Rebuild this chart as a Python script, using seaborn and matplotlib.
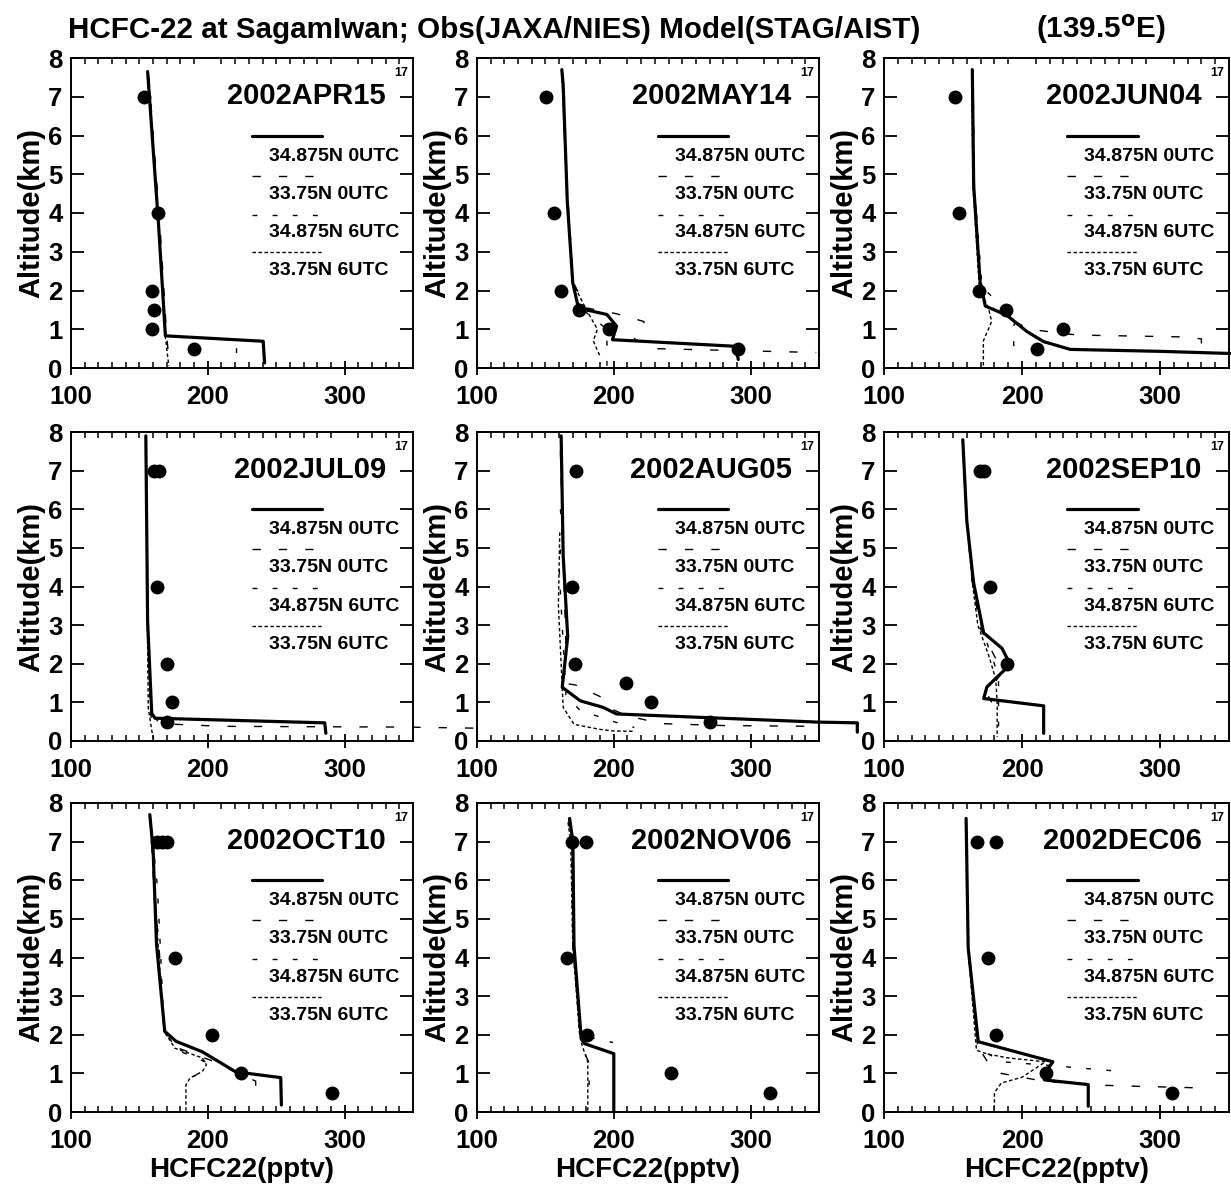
import matplotlib
matplotlib.use("Agg")
import matplotlib.pyplot as plt
from matplotlib.lines import Line2D
from matplotlib.ticker import MultipleLocator
import seaborn as sns

# ---------------- data ----------------
dates = ["2002APR15", "2002MAY14", "2002JUN04",
         "2002JUL09", "2002AUG05", "2002SEP10",
         "2002OCT10", "2002NOV06", "2002DEC06"]
series_labels = ["34.875N 0UTC", "33.75N 0UTC", "34.875N 6UTC", "33.75N 6UTC"]
x_ticks = [100, 200, 300]
y_ticks = [0, 1, 2, 3, 4, 5, 6, 7, 8]

# APR15
apr_obs_ppt = [153, 163.5, 159.5, 161, 159.5, 190]
apr_obs_km = [7, 4, 2, 1.5, 1, 0.5]
apr_s1_ppt = [156, 164, 169, 240.5, 241.5]
apr_s1_km = [7.65, 3.7, 0.83, 0.69, 0.13]
apr_s2_ppt = [157, 165, 170, 172]
apr_s2_km = [7.5, 3.7, 0.8, 0.1]
apr_s3_ppt = [156, 164, 169, 221, 221]
apr_s3_km = [7.6, 3.7, 0.83, 0.72, 0.13]
apr_s4_ppt = [156.5, 164, 169, 171.5]
apr_s4_km = [7.6, 3.7, 0.8, 0.05]

# MAY14
may_obs_ppt = [150.5, 156, 161.5, 174.5, 196.5, 290.5]
may_obs_km = [7, 4, 2, 1.5, 1, 0.5]
may_s1_ppt = [162, 163, 166, 170, 173.5, 180, 195, 202, 199, 289, 291]
may_s1_km = [7.7, 7.3, 4.3, 2.2, 1.65, 1.5, 1.38, 1.08, 0.73, 0.56, 0.22]
may_s2_ppt = [162.5, 166.5, 170.5, 180, 202, 222, 222, 215, 230, 348]
may_s2_km = [7.6, 4.3, 2.2, 1.55, 1.4, 1.2, 1.05, 0.75, 0.5, 0.4]
may_s3_ppt = [162, 166, 170, 174, 195, 195]
may_s3_km = [7.6, 4.3, 2.2, 1.6, 1.0, 0.05]
may_s4_ppt = [162, 166, 170, 180, 188, 185, 190]
may_s4_km = [7.6, 4.3, 2.2, 1.5, 1.0, 0.7, 0.3]

# JUN04
jun_obs_ppt = [151.5, 154, 168.5, 188.5, 230, 211]
jun_obs_km = [7, 4, 2, 1.5, 1, 0.5]
jun_s1_ppt = [164, 165, 169.7, 173.4, 189, 203.6, 215.7, 235, 300, 355]
jun_s1_km = [7.7, 4.7, 2.2, 1.6, 1.36, 0.94, 0.68, 0.48, 0.43, 0.37]
jun_s2_ppt = [164.5, 165.5, 170, 180, 205, 240, 320, 330, 330]
jun_s2_km = [7.6, 4.7, 2.2, 1.5, 1.0, 0.85, 0.8, 0.75, 0.35]
jun_s3_ppt = [164, 165.5, 171, 185, 195, 194, 194]
jun_s3_km = [7.6, 4.7, 2.1, 1.6, 1.25, 1.05, 0.35]
jun_s4_ppt = [163.5, 164.5, 169, 176, 178, 172, 172]
jun_s4_km = [7.6, 4.7, 2.1, 1.5, 1.2, 0.7, 0.0]

# JUL09
jul_obs_ppt = [161, 164, 163, 170, 174, 170]
jul_obs_km = [7, 7, 4, 2, 1, 0.5]
jul_s1_ppt = [154.7, 156, 159, 161.4, 285.5, 286.3]
jul_s1_km = [7.9, 3.1, 0.72, 0.59, 0.47, 0.2]
jul_s2_ppt = [155, 156, 159, 165, 210, 345, 400]
jul_s2_km = [7.5, 3.0, 0.7, 0.45, 0.38, 0.36, 0.33]
jul_s3_ppt = [155, 156, 158, 160]
jul_s3_km = [7.5, 3.0, 0.8, 0.2]
jul_s4_ppt = [155, 155.5, 156.5, 159.6, 161]
jul_s4_km = [7.4, 4.1, 0.85, 0.15, 0.0]

# AUG05
aug_obs_ppt = [172.5, 169.5, 171.5, 209, 227, 270.5]
aug_obs_km = [7, 4, 2, 1.5, 1, 0.5]
aug_s1_ppt = [161.5, 163, 166.3, 162.3, 175.5, 192.3, 201.9, 348.6, 378, 378]
aug_s1_km = [7.9, 4.8, 2.7, 1.39, 1.04, 0.87, 0.7, 0.49, 0.47, 0.23]
aug_s2_ppt = [161, 163, 165, 163, 172, 190, 200, 210, 235, 280, 348]
aug_s2_km = [7.5, 4.8, 2.5, 1.5, 1.45, 1.15, 0.8, 0.65, 0.45, 0.4, 0.38]
aug_s3_ppt = [161, 162, 160, 165, 175, 200, 215]
aug_s3_km = [6.0, 5.4, 4.5, 1.2, 0.8, 0.5, 0.35]
aug_s4_ppt = [160.5, 159.5, 163, 171, 190, 200, 215]
aug_s4_km = [5.4, 3.5, 0.87, 0.43, 0.3, 0.26, 0.25]

# SEP10
sep_obs_ppt = [169.5, 172.5, 176.5, 189]
sep_obs_km = [7, 7, 4, 2]
sep_s1_ppt = [157.1, 160, 164.9, 172.2, 185.5, 191.5, 181.8, 174.6, 172.2, 215.7, 215.7]
sep_s1_km = [7.8, 5.7, 4.1, 2.8, 2.4, 1.98, 1.65, 1.4, 1.1, 0.91, 0.2]
sep_s2_ppt = [157, 160, 164, 170, 180, 186, 180, 175, 178]
sep_s2_km = [7.7, 5.7, 4.1, 2.9, 2.2, 1.8, 1.5, 1.2, 1.0]
sep_s3_ppt = [157, 160, 164.5, 171, 180, 183, 183]
sep_s3_km = [7.7, 5.7, 4.1, 2.9, 2.0, 1.6, 0.2]
sep_s4_ppt = [157, 160, 164, 168, 176, 181, 182, 182]
sep_s4_km = [7.6, 5.7, 4.1, 3.0, 2.2, 1.6, 1.0, 0.1]

# OCT10
oct_obs_ppt = [162.5, 166.5, 170.5, 176, 203, 224, 291]
oct_obs_km = [7, 7, 7, 4, 2, 1, 0.5]
oct_s1_ppt = [157.6, 160, 162.5, 168.5, 176.8, 195.9, 220.4, 253.3, 253.8]
oct_s1_km = [7.7, 6.8, 4.35, 2.09, 1.83, 1.56, 1.04, 0.89, 0.18]
oct_s2_ppt = [158, 161, 164, 168, 175, 205, 222, 235, 235]
oct_s2_km = [7.6, 5.5, 4.5, 2.1, 1.7, 1.3, 1.0, 0.8, 0.3]
oct_s3_ppt = [158, 163, 165, 168, 178, 198, 196, 186, 184]
oct_s3_km = [7.6, 5.9, 4.5, 2.1, 1.6, 1.3, 1.05, 0.85, 0.7]
oct_s4_ppt = [158, 161, 163.5, 168, 176, 196, 199, 196, 187, 184, 184]
oct_s4_km = [7.6, 6.0, 4.4, 2.1, 1.65, 1.4, 1.22, 1.05, 0.88, 0.7, 0.0]

# NOV06
nov_obs_ppt = [169.5, 180, 165.5, 180.5, 241.5, 314.5]
nov_obs_km = [7, 7, 4, 2, 1, 0.5]
nov_s1_ppt = [167.7, 170.1, 170.9, 176.2, 178.6, 200, 200]
nov_s1_km = [7.6, 7.0, 4.3, 1.9, 1.77, 1.51, 0.0]
nov_s2_ppt = [167, 169.5, 170.5, 175.5, 178, 181.5, 182]
nov_s2_km = [7.6, 7.0, 4.3, 2.0, 1.6, 1.3, 0.7]
nov_s3_ppt = [167, 169, 170, 175, 180, 199.5]
nov_s3_km = [7.5, 7.0, 4.3, 2.1, 1.95, 1.8]
nov_s4_ppt = [166.5, 168.5, 170, 175, 177, 181, 181]
nov_s4_km = [7.5, 7.0, 4.3, 2.0, 1.7, 1.3, 0.0]

# DEC06
dec_obs_ppt = [167.5, 181.5, 175.5, 181, 217.5, 309]
dec_obs_km = [7, 7, 4, 2, 1, 0.5]
dec_s1_ppt = [159.5, 161, 168.3, 222.4, 216.3, 216.3, 248, 248]
dec_s1_km = [7.6, 4.25, 1.82, 1.3, 1.0, 0.83, 0.71, 0.15]
dec_s2_ppt = [159.5, 161, 168, 175, 185, 200, 215, 250, 290, 333]
dec_s2_km = [7.6, 4.2, 1.7, 1.3, 1.0, 0.9, 0.8, 0.7, 0.66, 0.62]
dec_s3_ppt = [159.5, 161, 168, 186, 222, 275]
dec_s3_km = [7.6, 4.2, 1.65, 1.3, 1.2, 1.04]
dec_s4_ppt = [159.5, 161, 167, 175, 190, 217, 200, 185, 180, 180]
dec_s4_km = [7.6, 4.2, 1.6, 1.5, 1.4, 1.3, 0.9, 0.75, 0.5, 0.1]

panels = [
    (apr_obs_ppt, apr_obs_km, [(apr_s1_ppt, apr_s1_km), (apr_s2_ppt, apr_s2_km), (apr_s3_ppt, apr_s3_km), (apr_s4_ppt, apr_s4_km)]),
    (may_obs_ppt, may_obs_km, [(may_s1_ppt, may_s1_km), (may_s2_ppt, may_s2_km), (may_s3_ppt, may_s3_km), (may_s4_ppt, may_s4_km)]),
    (jun_obs_ppt, jun_obs_km, [(jun_s1_ppt, jun_s1_km), (jun_s2_ppt, jun_s2_km), (jun_s3_ppt, jun_s3_km), (jun_s4_ppt, jun_s4_km)]),
    (jul_obs_ppt, jul_obs_km, [(jul_s1_ppt, jul_s1_km), (jul_s2_ppt, jul_s2_km), (jul_s3_ppt, jul_s3_km), (jul_s4_ppt, jul_s4_km)]),
    (aug_obs_ppt, aug_obs_km, [(aug_s1_ppt, aug_s1_km), (aug_s2_ppt, aug_s2_km), (aug_s3_ppt, aug_s3_km), (aug_s4_ppt, aug_s4_km)]),
    (sep_obs_ppt, sep_obs_km, [(sep_s1_ppt, sep_s1_km), (sep_s2_ppt, sep_s2_km), (sep_s3_ppt, sep_s3_km), (sep_s4_ppt, sep_s4_km)]),
    (oct_obs_ppt, oct_obs_km, [(oct_s1_ppt, oct_s1_km), (oct_s2_ppt, oct_s2_km), (oct_s3_ppt, oct_s3_km), (oct_s4_ppt, oct_s4_km)]),
    (nov_obs_ppt, nov_obs_km, [(nov_s1_ppt, nov_s1_km), (nov_s2_ppt, nov_s2_km), (nov_s3_ppt, nov_s3_km), (nov_s4_ppt, nov_s4_km)]),
    (dec_obs_ppt, dec_obs_km, [(dec_s1_ppt, dec_s1_km), (dec_s2_ppt, dec_s2_km), (dec_s3_ppt, dec_s3_km), (dec_s4_ppt, dec_s4_km)]),
]

# ---------------- style ----------------
sns.set_theme(style="ticks")
plt.rcParams["font.family"] = ["Liberation Sans", "DejaVu Sans"]
plt.rcParams["font.weight"] = "bold"
plt.rcParams["axes.labelweight"] = "bold"
plt.rcParams["mathtext.default"] = "regular"
for key in ["text.color", "axes.labelcolor", "xtick.color", "ytick.color",
            "axes.edgecolor"]:
    plt.rcParams[key] = "black"

line_styles = [
    dict(lw=2.3, ls="-"),
    dict(lw=1.0, ls=(0, (6, 13))),
    dict(lw=1.0, ls=(0, (3.5, 11))),
    dict(lw=1.0, ls=(0, (2.5, 1.8))),
]

W, H = 1231, 1187
fig = plt.figure(figsize=(W / 100, H / 100), dpi=100)
col_left = [71, 477, 884]
col_w = [342, 342, 345]
rows = [(58, 368), (432, 741), (803, 1112)]

leg_line_y = [0.75, 0.62, 0.495, 0.373]
leg_text_y = [0.683, 0.56, 0.436, 0.313]

for i, (date, (ox, oy, series)) in enumerate(zip(dates, panels)):
    r, c = divmod(i, 3)
    top, bot = rows[r]
    ax = fig.add_axes([col_left[c] / W, 1 - bot / H, col_w[c] / W, (bot - top) / H])

    for (sx, sy), st in zip(series, line_styles):
        sns.lineplot(x=sx, y=sy, sort=False, estimator=None, ax=ax,
                     color="black", linewidth=st["lw"], linestyle=st["ls"],
                     clip_on=False, zorder=3)
    sns.scatterplot(x=ox, y=oy, ax=ax, s=100, color="black",
                    edgecolor="black", linewidth=0, zorder=5)

    ax.set_xlim(100, 350)
    ax.set_ylim(0, 8)
    ax.set_xticks(x_ticks)
    ax.set_yticks(y_ticks)
    ax.xaxis.set_minor_locator(MultipleLocator(10))
    ax.tick_params(axis="x", which="major", direction="inout", length=10,
                   width=1.3, labelsize=18.5, pad=7, top=False, bottom=True,
                   colors="black")
    ax.tick_params(axis="x", which="minor", direction="in", length=4.5,
                   width=1.1, top=True, bottom=True, colors="black")
    ax.tick_params(axis="y", which="major", direction="in", length=9.5,
                   width=1.3, labelsize=18.5, pad=6, left=True, right=True,
                   colors="black")
    for sp in ax.spines.values():
        sp.set_linewidth(1.4)
        sp.set_color("black")
        sp.set_visible(True)
    ax.set_facecolor("white")
    ax.set_ylabel("Altitude(km)", fontsize=21, labelpad=2, color="black")
    if r == 2:
        ax.set_xlabel("HCFC22(pptv)", fontsize=20, labelpad=3, color="black")
    else:
        ax.set_xlabel("")

    ax.text(0.92, 0.876, date, transform=ax.transAxes, ha="right",
            va="center", fontsize=21, fontweight="bold")
    ax.text(0.965, 0.95, "17", transform=ax.transAxes, ha="center",
            va="center", fontsize=9, fontweight="bold")
    for k, (lab, st) in enumerate(zip(series_labels, line_styles)):
        ax.add_line(Line2D([0.53, 0.735], [leg_line_y[k]] * 2,
                           transform=ax.transAxes, color="black",
                           linewidth=st["lw"], linestyle=st["ls"]))
        ax.text(0.58, leg_text_y[k], lab, transform=ax.transAxes,
                ha="left", va="center", fontsize=14, fontweight="bold")

fig.text(0.055, 0.975, "HCFC-22 at SagamIwan; Obs(JAXA/NIES) Model(STAG/AIST)",
         ha="left", va="center", fontsize=21.3, fontweight="bold")
fig.text(0.894, 0.975, r"(139.5$^\mathbf{o}$E)", ha="center", va="center",
         fontsize=21.3, fontweight="bold")

fig.savefig("out.png", dpi=100, facecolor="white")
